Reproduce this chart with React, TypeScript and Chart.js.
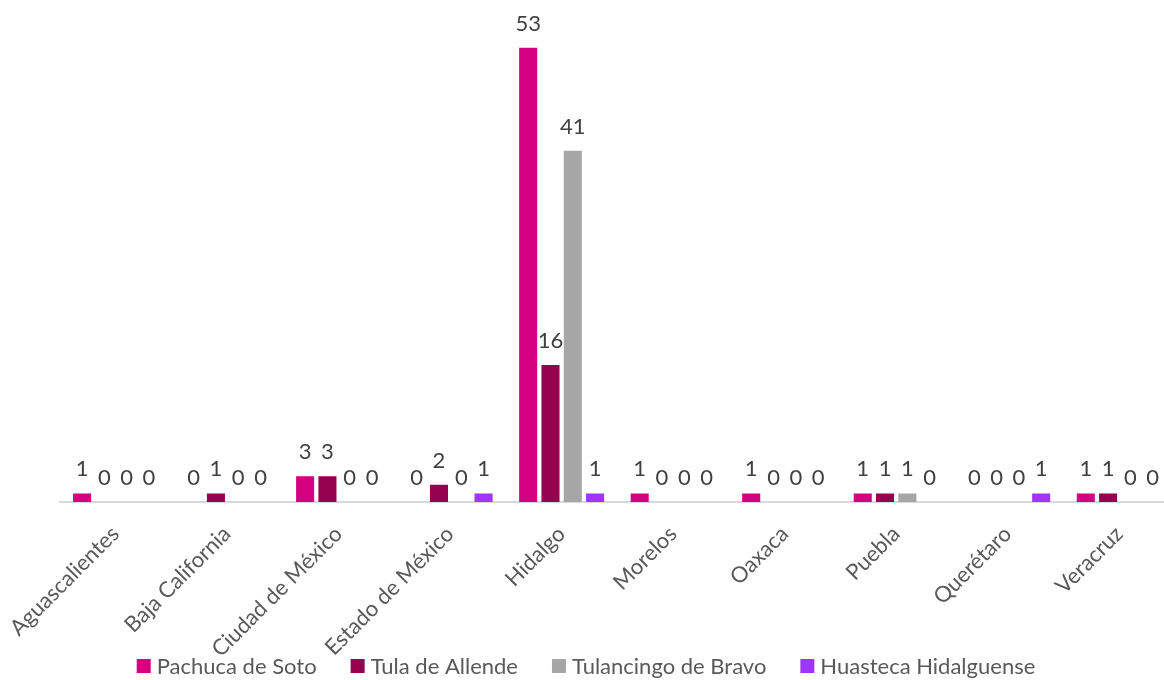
import React, { useEffect, useRef } from "react";
import { Chart, registerables } from "chart.js";
Chart.register(...registerables);

const categories = ["Aguascalientes", "Baja California", "Ciudad de México", "Estado de México", "Hidalgo", "Morelos", "Oaxaca", "Puebla", "Querétaro", "Veracruz"];
const seriesNames = ["Pachuca de Soto", "Tula de Allende", "Tulancingo de Bravo", "Huasteca Hidalguense"];
const pachuca = [1, 0, 3, 0, 53, 1, 1, 1, 0, 1];
const tula = [0, 1, 3, 2, 16, 0, 0, 1, 0, 1];
const tulancingo = [0, 0, 0, 0, 41, 0, 0, 1, 0, 0];
const huasteca = [0, 0, 0, 1, 1, 0, 0, 0, 1, 0];
const colors = ["#D5007F", "#95004F", "#A6A6A6", "#9E36FF"];

const FONT = "Lato, 'Noto Sans', sans-serif";

const valueLabels = {
  id: "valueLabels",
  afterDatasetsDraw(chart: any) {
    const ctx = chart.ctx;
    ctx.save();
    ctx.font = `22px ${FONT}`;
    ctx.fillStyle = "#404040";
    ctx.textAlign = "center";
    ctx.textBaseline = "alphabetic";
    chart.data.datasets.forEach((ds: any, i: number) => {
      const meta = chart.getDatasetMeta(i);
      meta.data.forEach((el: any, j: number) => {
        ctx.fillText(String(ds.data[j]), el.x, el.y - 17);
      });
    });
    ctx.restore();
  },
};

const bottomLegend = {
  id: "bottomLegend",
  afterDraw(chart: any) {
    const ctx = chart.ctx;
    const box = 14;
    const gapText = 6;
    const gapItem = 34;
    const cx = 586;
    const cy = 666;
    ctx.save();
    ctx.font = `22px ${FONT}`;
    ctx.textBaseline = "middle";
    ctx.textAlign = "left";
    const items = chart.data.datasets.map((ds: any) => ({
      label: ds.label,
      color: ds.backgroundColor,
      w: ctx.measureText(ds.label).width,
    }));
    const total = items.reduce((s: number, it: any) => s + box + gapText + it.w, 0) + gapItem * (items.length - 1);
    let x = cx - total / 2;
    items.forEach((it: any) => {
      ctx.fillStyle = it.color;
      ctx.fillRect(x, cy - box / 2, box, box);
      ctx.fillStyle = "#595959";
      ctx.fillText(it.label, x + box + gapText, cy + 1);
      x += box + gapText + it.w + gapItem;
    });
    ctx.restore();
  },
};

export default function App() {
  const ref = useRef<HTMLCanvasElement>(null);
  useEffect(() => {
    const seriesData = [pachuca, tula, tulancingo, huasteca];
    const chart = new Chart(ref.current!, {
      type: "bar",
      data: {
        labels: categories,
        datasets: seriesNames.map((name, i) => ({
          label: name,
          data: seriesData[i],
          backgroundColor: colors[i],
          borderWidth: 0,
          categoryPercentage: 0.8,
          barPercentage: 0.81,
        })),
      },
      options: {
        animation: false,
        responsive: false,
        layout: { padding: { top: 5, left: 59, right: 5, bottom: 13 } },
        plugins: {
          legend: { display: false },
          tooltip: { enabled: false },
        },
        scales: {
          x: {
            grid: { display: false },
            border: { display: true, color: "#D9D9D9", width: 2 },
            ticks: {
              minRotation: 45,
              maxRotation: 45,
              padding: 11,
              color: "#595959",
              font: { family: FONT, size: 22 },
            },
            afterFit: (s: any) => {
              s.height = 165;
            },
          },
          y: {
            display: false,
            min: 0,
            max: 58,
          },
        },
      },
      plugins: [valueLabels, bottomLegend],
    });
    return () => chart.destroy();
  }, []);
  return (
    <div style={{ position: "absolute", left: 0, top: 0, width: 1164, height: 680, overflow: "hidden", background: "#fff" }}>
      <canvas ref={ref} width={1180} height={680} style={{ display: "block" }} />
    </div>
  );
}
